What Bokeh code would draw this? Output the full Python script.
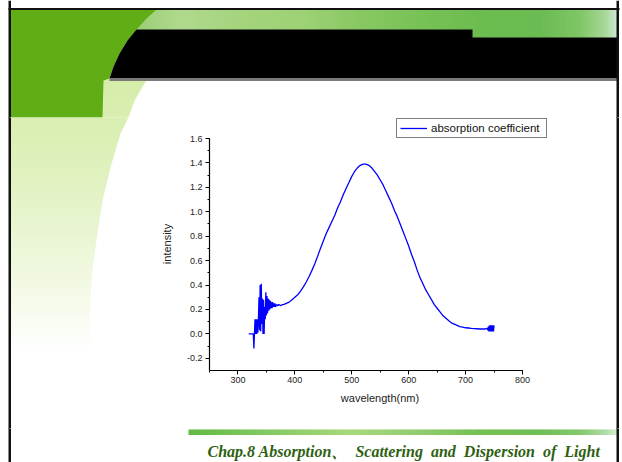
import numpy as np
from bokeh.plotting import figure
from bokeh.layouts import column, row
from bokeh.models import (Range1d, SingleIntervalTicker, NumeralTickFormatter, Legend,
                          LegendItem)
from bokeh.core.properties import value
from bokeh.embed import file_html
from bokeh.resources import INLINE

# ---------------- data ----------------
wavelength = [319, 325, 327, 328, 329, 330, 331, 332, 333, 334, 335, 336, 337, 338, 339,
              340, 341, 342, 343, 344, 345, 346, 347, 348, 349, 350, 351, 352, 353, 354,
              355, 356, 357, 358, 359, 360, 361, 362, 363, 364, 365, 366, 368, 370, 372,
              375, 378, 380, 385, 390, 395, 400, 405, 410, 415, 420, 425, 430, 435, 440,
              445, 450, 455, 460, 465, 470, 475, 480, 485, 490, 495, 500, 505, 510, 515,
              520, 525, 530, 535, 540, 545, 550, 555, 560, 565, 570, 575, 580, 585, 590,
              595, 600, 605, 610, 615, 620, 625, 630, 635, 640, 645, 650, 655, 660, 665,
              670, 675, 680, 685, 690, 695, 700, 705, 710, 715, 720, 725, 730, 735, 738,
              739, 740, 741, 742, 743, 744, 745, 746, 747, 748, 749, 750]
absorption = [0.00, 0.00, 0.00, -0.12, 0.00, 0.12, 0.00, 0.12, 0.00, 0.12, 0.01, 0.12, 0.30, 0.03, 0.40,
              0.02, 0.41, 0.08, 0.29, 0.00, 0.28, 0.00, 0.22, 0.12, 0.34, 0.15, 0.31, 0.17, 0.29, 0.19,
              0.28, 0.20, 0.27, 0.21, 0.26, 0.21, 0.26, 0.22, 0.25, 0.22, 0.25, 0.22, 0.24, 0.23, 0.24,
              0.23, 0.24, 0.24, 0.25, 0.26, 0.28, 0.30, 0.32, 0.35, 0.385, 0.425, 0.47, 0.52, 0.575, 0.635,
              0.70, 0.76, 0.82, 0.87, 0.92, 0.97, 1.03, 1.08, 1.14, 1.19, 1.24, 1.29, 1.33, 1.36, 1.38,
              1.39, 1.39, 1.38, 1.36, 1.33, 1.30, 1.26, 1.22, 1.17, 1.12, 1.07, 1.01, 0.96, 0.90, 0.84,
              0.78, 0.72, 0.65, 0.59, 0.52, 0.46, 0.41, 0.36, 0.32, 0.28, 0.24, 0.21, 0.18, 0.15, 0.13,
              0.11, 0.09, 0.08, 0.07, 0.06, 0.055, 0.05, 0.048, 0.045, 0.043, 0.042, 0.04, 0.04, 0.04, 0.045,
              0.03, 0.06, 0.02, 0.07, 0.02, 0.07, 0.02, 0.07, 0.02, 0.07, 0.02, 0.07]
series_name = "absorption coefficient"
x_label = "wavelength(nm)"
y_label = "intensity"
footer = "Chap.8 Absorption\u3001\u00a0 Scattering\u00a0 and\u00a0 Dispersion\u00a0 of\u00a0 Light"
x_min, x_max, x_step = 250, 800, 100
y_min, y_max, y_step = -0.3, 1.6, 0.2

# ---------------- layout (window pixels) ----------------
W, H = 622, 462
CX0, CX1, CY0, CY1 = 150, 614, 117, 428  # chart canvas
AL, AR, AT, AB = 209, 522, 138, 370      # axes box
FR, FT = 550, 117                        # plot frame right / top

px_per = (AR - AL) / (x_max - x_min)
py_per = (AB - AT) / (y_max - y_min)

chart = figure(width=CX1 - CX0, height=CY1 - CY0,
               x_range=Range1d(x_min, x_max + (FR - AR) / px_per),
               y_range=Range1d(y_min, y_max + (AT - FT) / py_per),
               output_backend="svg", toolbar_location=None,
               min_border_left=AL - CX0, min_border_right=CX1 - FR,
               min_border_top=FT - CY0, min_border_bottom=CY1 - AB)
chart.outline_line_color = None
chart.grid.visible = False
chart.background_fill_color = "white"
chart.border_fill_color = "white"

r = chart.line(wavelength, absorption, line_color="#0000ff", line_width=1.3)

for ax in (chart.xaxis[0], chart.yaxis[0]):
    ax.axis_line_color = "black"
    ax.axis_line_width = 1.2
    ax.major_tick_line_color = "black"
    ax.minor_tick_line_color = "black"
    ax.major_tick_out = 4
    ax.major_tick_in = 0
    ax.minor_tick_out = 2
    ax.minor_tick_in = 0
    ax.major_label_text_font = "Liberation Sans"
    ax.major_label_text_font_size = "9px"
    ax.major_label_text_color = "#222222"
    ax.major_label_standoff = 3
    ax.axis_label_text_font = "Liberation Sans"
    ax.axis_label_text_font_size = "11px"
    ax.axis_label_text_font_style = "normal"
    ax.axis_label_text_color = "#222222"

chart.xaxis.ticker = SingleIntervalTicker(interval=x_step, num_minor_ticks=2)
chart.yaxis.ticker = SingleIntervalTicker(interval=y_step, num_minor_ticks=2)
chart.xaxis.bounds = (x_min, x_max)
chart.yaxis.bounds = (y_min, y_max)
chart.yaxis.formatter = NumeralTickFormatter(format="0.0")
chart.xaxis.major_label_standoff = 2
chart.xaxis.axis_label = x_label
chart.yaxis.axis_label = y_label
chart.xaxis.axis_label_standoff = 6
chart.yaxis.axis_label_standoff = 11

legend = Legend(items=[LegendItem(label=series_name, renderers=[r])],
                location=(396 - AL, AB - 137.5), margin=0, padding=3, spacing=0,
                glyph_width=27, glyph_height=12, label_standoff=4, label_width=112,
                label_height=12, label_text_font="Liberation Sans",
                label_text_font_size="11.5px", label_text_color="#111111",
                border_line_color="black", border_line_width=1,
                background_fill_color="white", background_fill_alpha=1)
chart.add_layout(legend)

# ---------------- slide decoration (window-pixel coordinates) ----------------
def hexrgb(h):
    h = h.lstrip("#")
    return [int(h[i:i + 2], 16) for i in (0, 2, 4)]

def interp_color(x, stops):
    xs = [s[0] for s in stops]
    cols = np.array([hexrgb(s[1]) for s in stops], dtype=float)
    c = [int(round(np.interp(x, xs, cols[:, k]))) for k in range(3)]
    return "#%02x%02x%02x" % tuple(c)

top_stops = [(110, "#8cc868"), (180, "#b0d98e"), (240, "#a4d47c"), (300, "#9ed276"),
             (360, "#88c862"), (420, "#78c256"), (480, "#6cbc50"), (540, "#6abc52"),
             (580, "#80c666"), (605, "#a8d898"), (617, "#d0ead8")]
bot_stops = [(188, "#62ba42"), (260, "#80c860"), (350, "#a8d87c"), (420, "#90cc6e"),
             (480, "#74c052"), (540, "#70be56"), (580, "#84c870"), (605, "#b0dca4"),
             (617, "#d8eed6")]
edge_y = [78, 100, 117, 133, 167, 200, 233, 267, 300, 333, 370]
edge_x = [147, 134, 128, 120, 110, 102, 97, 92, 90, 89, 88]
LG0 = np.array([214, 237, 170], dtype=float)
DARK_GREEN = "#60ad16"


def arc_color(y):
    t = min(1.0, max(0.0, (y - 80) / (352 - 80)))
    c = LG0 + (255 - LG0) * (t ** 1.3)
    return "#%02x%02x%02x" % tuple(int(round(v)) for v in c)


def hgrad(f, x0, x1, y0, y1, stops, step=3):
    lefts = list(np.arange(x0, x1, step))
    rights = [min(l + step + 0.8, x1) for l in lefts]
    cols = [interp_color(l + step / 2, stops) for l in lefts]
    f.quad(left=lefts, right=rights, top=[y0] * len(lefts), bottom=[y1] * len(lefts),
           fill_color=cols, line_color=None)


def draw_decor(f):
    xs, ys, cols = [], [], []
    y = 78
    while y < 356:
        y1 = y + 6
        cols.append(arc_color(y + 3))
        xs.append([10, float(np.interp(y, edge_y, edge_x)),
                   float(np.interp(y1 + 0.8, edge_y, edge_x)), 10])
        ys.append([y, y, y1 + 0.8, y1 + 0.8])
        y = y1
    f.patches(xs, ys, fill_color=cols, line_color=None)
    hgrad(f, 110, 617, 9, 40, top_stops)
    f.patch([10, 156, 146, 136, 127, 119, 113, 109, 103, 102, 10],
            [9, 9, 18, 29, 40, 53, 66, 78, 80, 117, 117], fill_color=DARK_GREEN, line_color=None)
    f.patch([136, 472, 472, 617, 617, 109, 113, 119, 127],
            [29, 29, 37, 37, 78, 78, 66, 53, 40], fill_color="#000000", line_color=None)
    f.quad(left=[109], right=[617], top=[78], bottom=[80.5], fill_color="#7a7a7a",
           line_color=None)
    hgrad(f, 188, 617, 429, 434.5, bot_stops)
    f.quad(left=[8, 8, 616], right=[10.5, 619, 618.5], top=[0, 7.5, 0],
           bottom=[470, 9.5, 470], fill_color="#111111", line_color=None)
    f.text(x=[207], y=[451], text=[footer], text_font=value("Liberation Serif"),
           text_font_style="bold italic", text_font_size="16px", text_color="#2f5f12",
           text_baseline="alphabetic", text_align="left")


def deco_fig(x0, x1, y0, y1):
    f = figure(width=x1 - x0, height=y1 - y0, x_range=Range1d(x0, x1),
               y_range=Range1d(y1, y0), output_backend="svg", toolbar_location=None,
               x_axis_location=None, y_axis_location=None, min_border=0)
    f.outline_line_color = None
    f.grid.visible = False
    f.background_fill_color = "white"
    f.border_fill_color = "white"
    draw_decor(f)
    return f


top = deco_fig(0, W, 0, CY0)
left = deco_fig(0, CX0, CY0, CY1)
right = deco_fig(CX1, W, CY0, CY1)
bottom = deco_fig(0, W, CY1, H)

# backing colours shown through the hairline seams between canvases
seam_lg = arc_color(CY0)
seam_x = float(np.interp(CY0, edge_y, edge_x))


def stripe(segments):
    parts = []
    for a, b, c in segments:
        parts.append(f"{c} {a}px")
        parts.append(f"{c} {b}px")
    return "linear-gradient(to right, " + ", ".join(parts) + ")"


frame_lines = [(0, 8, "white"), (8, 10.5, "#111111")]
right_line = [(616, 618.5, "#111111"), (618.5, W, "white")]
upper_seam = stripe(frame_lines + [(10.5, 102, DARK_GREEN), (102, seam_x, seam_lg),
                                   (seam_x, 616, "white")] + right_line)
lower_seam = stripe(frame_lines + [(10.5, seam_x, seam_lg), (seam_x, 616, "white")] + right_line)
bottom_seam = stripe(frame_lines + [(10.5, 616, "white")] + right_line)
page_bg = (f"{upper_seam} 0px {CY0 - 3}px / 100% 3px no-repeat, "
           f"{lower_seam} 0px {CY0}px / 100% 3px no-repeat, "
           f"{bottom_seam} 0px {CY1 - 3}px / 100% 6px no-repeat, white")

left_bg = stripe(frame_lines + [(10.5, seam_x, seam_lg), (seam_x, CX0, "white")])
right_bg = stripe([(0, 2, "white"), (2, 4.5, "#111111"), (4.5, W - CX1, "white")])

middle = row(column(left, styles={"background": left_bg}),
             column(chart),
             column(right, styles={"background": right_bg}),
             spacing=0)
page = column(top, middle, column(bottom, styles={"background": bottom_seam}),
              spacing=0, styles={"background": page_bg})

open("out.html", "w").write(file_html(page, INLINE))
